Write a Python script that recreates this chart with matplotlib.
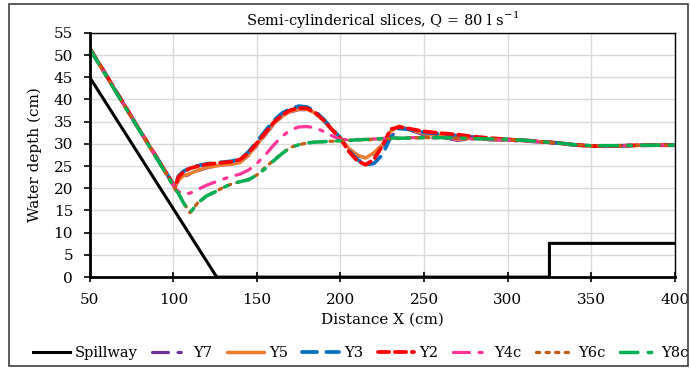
"""Water surface profiles over the spillway, semi-cylinderical slices."""

import matplotlib

matplotlib.use("Agg")
import matplotlib.pyplot as plt
from matplotlib.patches import Rectangle

plt.rcParams["font.family"] = ["DejaVu Serif"]
plt.rcParams["font.size"] = 11

# Spillway outline (cm)
SPILL_X = [50, 126, 325, 325, 400]
SPILL_Y = [45, 0, 0, 7.6, 7.6]

# Measurement stations along the flume (cm)
X = [50, 60, 70, 80, 90, 100, 101, 103, 106, 110, 115, 120, 125, 130, 135,
     140, 145, 150, 155, 160, 165, 170, 175, 180, 185, 190, 195, 200, 205,
     210, 215, 220, 225, 230, 235, 240, 250, 260, 270, 280, 290, 300, 310,
     320, 330, 340, 350, 360, 370, 380, 390, 400]

Y7 = [51.5, 45.3, 39.1, 33.0, 26.9, 21.0, 20.3, 21.6, 22.6, 23.2, 24.0, 24.6,
      25.0, 25.3, 25.5, 25.9, 27.4, 29.6, 32.0, 34.4, 36.1, 37.2, 37.7, 37.7,
      36.8, 35.1, 33.2, 31.2, 28.8, 27.3, 26.9, 27.8, 29.5, 31.5, 33.5, 33.3,
      32.0, 31.5, 30.8, 31.2, 30.9, 30.8, 30.6, 30.4, 30.1, 29.7, 29.5, 29.4,
      29.6, 29.6, 29.7, 29.7]
Y5 = [51.5, 45.4, 39.2, 33.0, 26.9, 21.0, 20.4, 21.8, 22.8, 23.3, 24.1, 24.7,
      25.0, 25.3, 25.4, 25.8, 27.5, 29.8, 32.2, 34.5, 36.2, 37.3, 37.8, 37.8,
      36.9, 35.2, 33.2, 31.3, 29.0, 27.5, 26.8, 28.0, 29.8, 32.8, 34.0, 33.4,
      32.3, 31.8, 31.0, 31.3, 31.0, 30.9, 30.7, 30.5, 30.2, 29.8, 29.5, 29.5,
      29.6, 29.7, 29.7, 29.7]
Y3 = [51.5, 45.4, 39.2, 33.0, 27.0, 20.9, 20.3, 22.7, 23.8, 24.6, 25.1, 25.5,
      25.7, 25.9, 26.1, 26.6, 28.2, 30.5, 32.9, 35.2, 36.9, 37.9, 38.5, 38.3,
      37.3, 35.5, 33.4, 31.3, 28.5, 26.5, 25.3, 25.6, 27.5, 31.5, 33.5, 33.3,
      32.6, 32.2, 31.8, 31.5, 31.2, 31.0, 30.8, 30.5, 30.2, 29.8, 29.5, 29.5,
      29.6, 29.7, 29.7, 29.7]
Y2 = [51.5, 45.4, 39.2, 33.0, 27.0, 20.8, 20.2, 22.5, 23.6, 24.5, 25.0, 25.4,
      25.6, 25.8, 26.0, 26.5, 28.0, 30.2, 32.5, 34.8, 36.5, 37.6, 38.1, 38.0,
      37.0, 35.3, 33.2, 31.2, 28.3, 26.2, 25.3, 26.5, 29.5, 33.3, 33.8, 33.5,
      32.8, 32.4, 32.1, 31.6, 31.3, 31.0, 30.8, 30.5, 30.2, 29.8, 29.5, 29.5,
      29.6, 29.7, 29.7, 29.7]
Y4c = [51.4, 45.3, 39.1, 33.0, 26.9, 20.8, 20.0, 19.3, 18.7, 18.9, 19.8, 20.7,
       21.4, 22.1, 22.7, 23.2, 24.1, 25.6, 27.5, 29.7, 31.7, 33.1, 33.8, 33.9,
       33.6, 32.8, 31.8, 31.0, 30.9, 31.0, 31.0, 31.1, 31.2, 31.3, 31.3, 31.4,
       31.4, 31.3, 31.2, 31.1, 31.0, 30.9, 30.7, 30.5, 30.2, 29.8, 29.6, 29.6,
       29.6, 29.7, 29.7, 29.7]
Y6c = [51.4, 45.2, 39.0, 32.9, 26.8, 20.6, 19.8, 18.9, 16.8, 14.5, 16.9, 18.3,
       19.2, 20.2, 21.0, 21.5, 22.0, 23.0, 24.7, 26.3, 27.8, 29.2, 29.8, 30.2,
       30.4, 30.5, 30.6, 30.7, 30.8, 30.9, 30.9, 31.0, 31.1, 31.2, 31.2, 31.3,
       31.4, 31.4, 31.3, 31.2, 31.1, 31.0, 30.8, 30.5, 30.2, 29.8, 29.6, 29.6,
       29.6, 29.7, 29.7, 29.7]
Y8c = [51.4, 45.2, 39.0, 32.9, 26.8, 20.6, 19.8, 18.9, 16.8, 14.5, 16.8, 18.3,
       19.2, 20.2, 21.0, 21.5, 21.9, 23.0, 24.4, 26.2, 27.8, 29.2, 29.8, 30.2,
       30.4, 30.5, 30.6, 30.7, 30.8, 30.9, 31.0, 31.1, 31.2, 31.3, 31.3, 31.3,
       31.4, 31.4, 31.3, 31.2, 31.1, 31.0, 30.8, 30.5, 30.2, 29.8, 29.6, 29.6,
       29.6, 29.7, 29.7, 29.7]

fig = plt.figure(figsize=(6.9, 3.69), dpi=100)
ax = fig.add_axes([0.130, 0.249, 0.848, 0.662])

ax.plot(SPILL_X, SPILL_Y, color="black", lw=2.2, label="Spillway",
        solid_joinstyle="miter", zorder=5)

dashdot = (0, (5, 3, 1, 3))
series = [
    ("Y7", Y7, "#7030a0", dashdot, 2.3),
    ("Y5", Y5, "#ed7d31", "-", 2.5),
    ("Y3", Y3, "#0070c0", (0, (4, 2.5)), 2.7),
    ("Y2", Y2, "#ff0000", (0, (3, 1.5)), 2.7),
    ("Y4c", Y4c, "#ff3399", dashdot, 2.3),
    ("Y6c", Y6c, "#c55a11", (0, (1, 2)), 2.3),
    ("Y8c", Y8c, "#00b050", dashdot, 2.5),
]
for name, ys, color, ls, lw in series:
    ax.plot(X, ys, color=color, ls=ls, lw=lw, label=name,
            dash_capstyle="round", solid_capstyle="round")

ax.set_xlim(50, 400)
ax.set_ylim(0, 55)
ax.set_xticks(range(50, 401, 50))
ax.set_yticks(range(0, 56, 5))
ax.grid(True, color="#d9d9d9", lw=1)
ax.set_axisbelow(True)

ax.spines["left"].set_linewidth(2)
ax.spines["bottom"].set_linewidth(2)
ax.spines["top"].set_linewidth(1)
ax.spines["right"].set_linewidth(1)
ax.tick_params(axis="y", direction="out", length=4, width=1.2, pad=8)
ax.tick_params(axis="x", direction="inout", length=7, width=1.2, pad=8)

ax.set_title("Semi-cylinderical slices, Q = 80 l s$^{\\mathregular{-1}}$",
             fontsize=10.5, pad=6)
ax.set_xlabel("Distance X (cm)", labelpad=4)
ax.set_ylabel("Water depth (cm)", labelpad=8)

fig.legend(loc="center", bbox_to_anchor=(0.523, 0.044), ncol=8, frameon=False,
           handlelength=2.5, handletextpad=0.35, columnspacing=1.0,
           fontsize=10.5)

fig.patches.append(Rectangle((0.013, 0.008), 0.984, 0.981,
                             transform=fig.transFigure, fill=False,
                             edgecolor="#404040", lw=1.2))

fig.savefig("out.png", dpi=100)
